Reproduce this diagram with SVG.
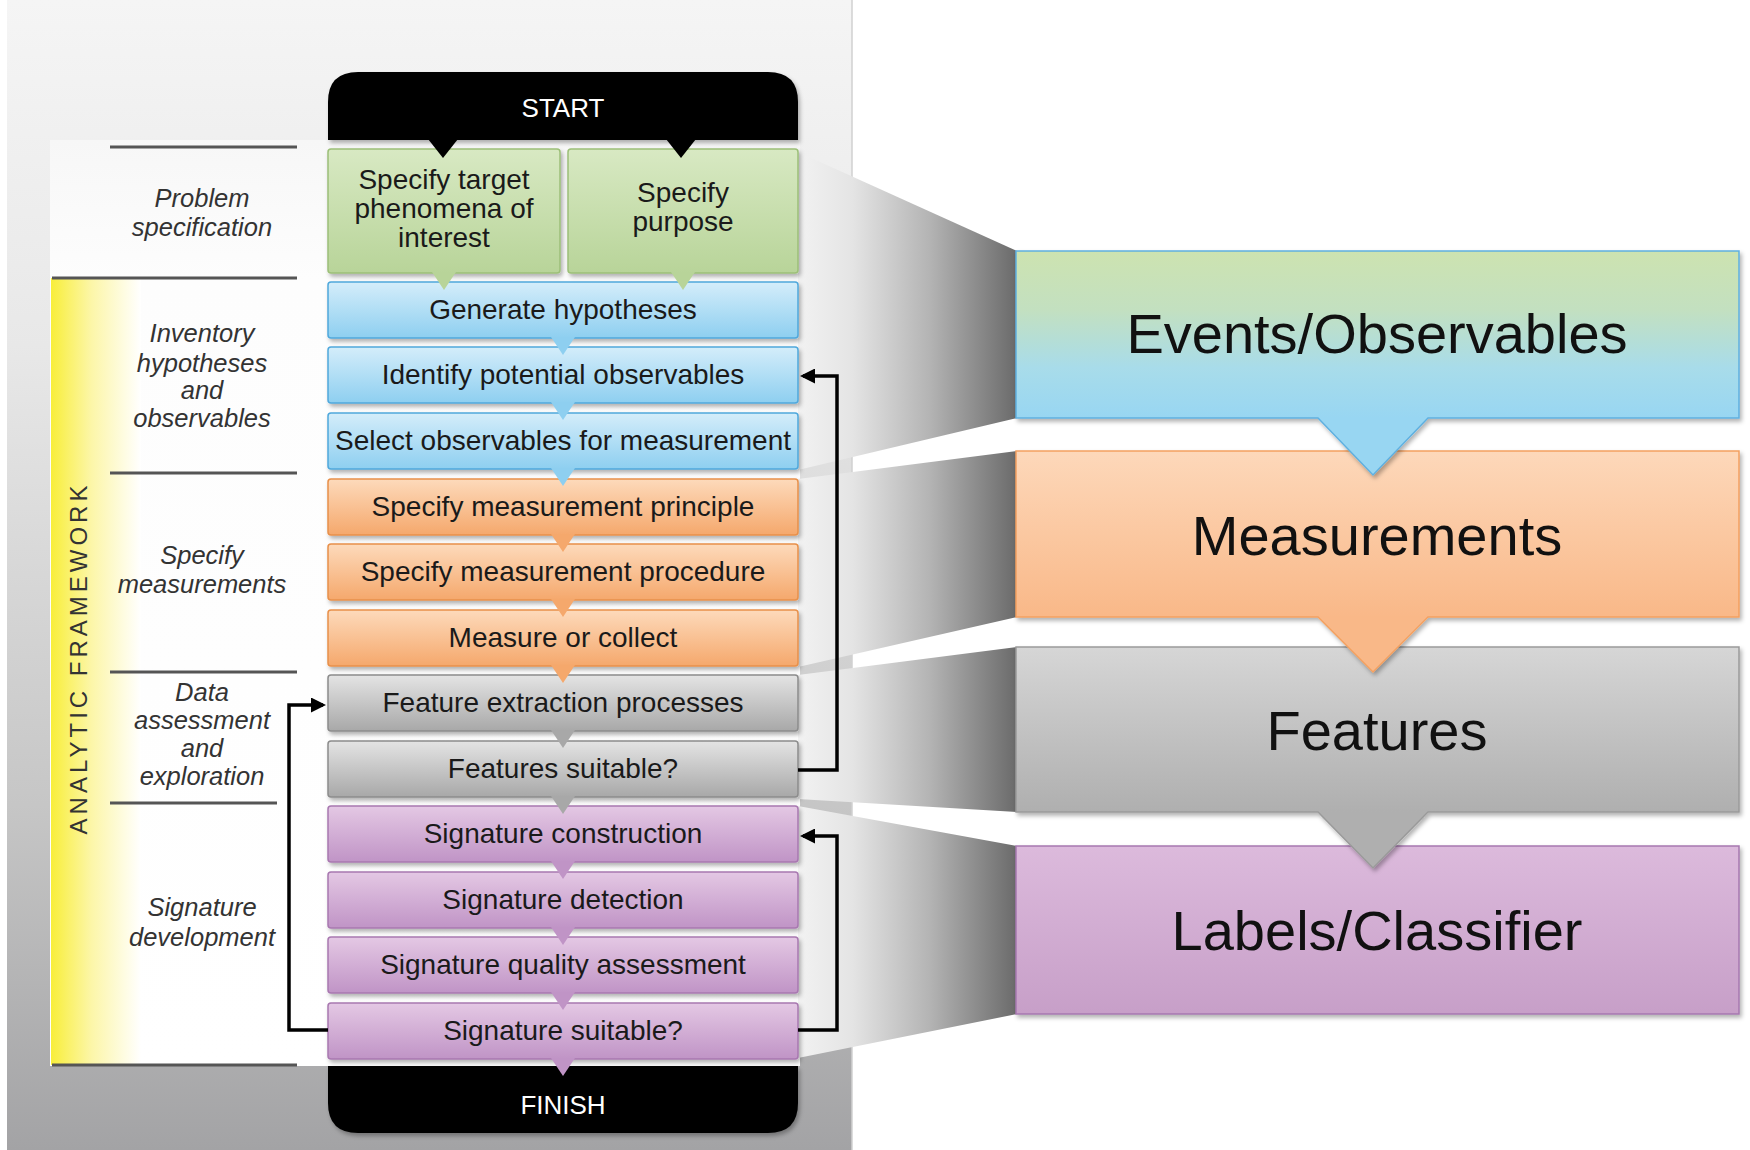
<svg xmlns="http://www.w3.org/2000/svg" width="1750" height="1150" viewBox="0 0 1750 1150">
<defs>
<style>
.box{stroke-width:1.5;filter:url(#sh)}
.bt{font-family:"Liberation Sans",Arial,sans-serif;font-size:28px;fill:#1a1a1a;text-anchor:middle}
.lab{font-family:"Liberation Sans",Arial,sans-serif;font-size:25.5px;font-style:italic;fill:#333;text-anchor:middle}
.se{font-family:"Liberation Sans",Arial,sans-serif;font-size:26px;fill:#fff;text-anchor:middle}
.big{font-family:"Liberation Sans",Arial,sans-serif;font-size:56px;fill:#111;text-anchor:middle}
.sep{stroke:#555;stroke-width:3}
.conn{fill:none;stroke:#000;stroke-width:3.5}
.g{fill:url(#gG);stroke:#9cbf78}
.b{fill:url(#gB);stroke:#4fa8dc}
.o{fill:url(#gO);stroke:#e8904a}
.y{fill:url(#gY);stroke:#8c8c8c}
.p{fill:url(#gP);stroke:#a878b0}
.proj{fill:url(#projG)}
</style>
<linearGradient id="panelG" x1="0" y1="0" x2="0" y2="1">
<stop offset="0" stop-color="#f5f5f5"/><stop offset="0.3" stop-color="#e8e8e8"/><stop offset="0.7" stop-color="#c6c6c6"/><stop offset="1" stop-color="#a3a3a5"/>
</linearGradient>
<linearGradient id="colG" x1="0" y1="0" x2="0" y2="1">
<stop offset="0" stop-color="#f7f7f7"/><stop offset="0.15" stop-color="#fdfdfd"/><stop offset="1" stop-color="#ffffff"/>
</linearGradient>
<linearGradient id="yelG" x1="0" y1="0" x2="1" y2="0">
<stop offset="0" stop-color="#f8ee3a"/><stop offset="0.45" stop-color="#fcf6a8"/><stop offset="1" stop-color="#ffffff"/>
</linearGradient>
<linearGradient id="gG" x1="0" y1="0" x2="0" y2="1"><stop offset="0" stop-color="#d8e9c3"/><stop offset="1" stop-color="#b8d499"/></linearGradient>
<linearGradient id="gB" x1="0" y1="0" x2="0" y2="1"><stop offset="0" stop-color="#d4edfa"/><stop offset="1" stop-color="#8ecff0"/></linearGradient>
<linearGradient id="gO" x1="0" y1="0" x2="0" y2="1"><stop offset="0" stop-color="#fddabb"/><stop offset="1" stop-color="#f5a86c"/></linearGradient>
<linearGradient id="gY" x1="0" y1="0" x2="0" y2="1"><stop offset="0" stop-color="#e4e4e4"/><stop offset="1" stop-color="#a8a8a8"/></linearGradient>
<linearGradient id="gP" x1="0" y1="0" x2="0" y2="1"><stop offset="0" stop-color="#e4c8e4"/><stop offset="1" stop-color="#c094c6"/></linearGradient>
<linearGradient id="projG" gradientUnits="userSpaceOnUse" x1="798" y1="0" x2="1017" y2="0">
<stop offset="0" stop-color="#f2f2f2"/><stop offset="0.25" stop-color="#e4e4e4"/><stop offset="0.6" stop-color="#b4b4b4"/><stop offset="1" stop-color="#6a6a6a"/>
</linearGradient>
<linearGradient id="evG" gradientUnits="userSpaceOnUse" x1="0" y1="251" x2="0" y2="418">
<stop offset="0" stop-color="#cde3b0"/><stop offset="0.35" stop-color="#c3e0c0"/><stop offset="0.7" stop-color="#a8dcea"/><stop offset="1" stop-color="#98d6f2"/>
</linearGradient>
<linearGradient id="meG" gradientUnits="userSpaceOnUse" x1="0" y1="451" x2="0" y2="617"><stop offset="0" stop-color="#fdd8ba"/><stop offset="1" stop-color="#f9b888"/></linearGradient>
<linearGradient id="feG" gradientUnits="userSpaceOnUse" x1="0" y1="647" x2="0" y2="812"><stop offset="0" stop-color="#d6d6d6"/><stop offset="1" stop-color="#afafaf"/></linearGradient>
<linearGradient id="laG" gradientUnits="userSpaceOnUse" x1="0" y1="846" x2="0" y2="1014"><stop offset="0" stop-color="#dcbadc"/><stop offset="1" stop-color="#c79fc8"/></linearGradient>
<filter id="sh" x="-5%" y="-20%" width="110%" height="150%">
<feDropShadow dx="2" dy="3" stdDeviation="2" flood-color="#000" flood-opacity="0.3"/>
</filter>
<marker id="ah" viewBox="0 0 10 10" refX="8" refY="5" markerWidth="18" markerHeight="15" markerUnits="userSpaceOnUse" orient="auto">
<path d="M0,0 L10,5 L0,10 z" fill="#000"/>
</marker>
</defs>

<!-- background panel -->
<rect x="0" y="0" width="1750" height="1150" fill="#fff"/>
<rect x="7" y="0" width="845" height="1150" fill="url(#panelG)"/>
<line x1="852" y1="0" x2="852" y2="1150" stroke="#d0d0d0" stroke-width="1.5"/>
<rect x="50" y="140" width="750" height="926" fill="url(#colG)"/>
<rect x="51" y="278" width="90" height="787" fill="url(#yelG)"/>

<!-- projections -->
<g id="projections">
<polygon class="proj" points="798,152 1017,251 1017,418 798,470"/>
<polygon class="proj" points="798,479 1017,451 1017,617 798,667"/>
<polygon class="proj" points="798,675 1017,647 1017,812 798,799"/>
<polygon class="proj" points="798,806 1017,846 1017,1014 798,1058"/>
</g>

<!-- left column separators and labels -->
<g id="sections">
<line class="sep" x1="110" y1="147" x2="297" y2="147"/>
<line class="sep" x1="52" y1="278" x2="297" y2="278"/>
<line class="sep" x1="110" y1="473" x2="297" y2="473"/>
<line class="sep" x1="110" y1="672" x2="297" y2="672"/>
<line class="sep" x1="110" y1="803" x2="277" y2="803"/>
<line class="sep" x1="52" y1="1065" x2="297" y2="1065"/>
<text class="lab" x="202" y="207">Problem</text>
<text class="lab" x="202" y="236">specification</text>
<text class="lab" x="202" y="342">Inventory</text>
<text class="lab" x="202" y="372">hypotheses</text>
<text class="lab" x="202" y="399">and</text>
<text class="lab" x="202" y="427">observables</text>
<text class="lab" x="202" y="564">Specify</text>
<text class="lab" x="202" y="593">measurements</text>
<text class="lab" x="202" y="701">Data</text>
<text class="lab" x="202" y="729">assessment</text>
<text class="lab" x="202" y="757">and</text>
<text class="lab" x="202" y="785">exploration</text>
<text class="lab" x="202" y="916">Signature</text>
<text class="lab" x="202" y="946">development</text>
<text transform="translate(87,658) rotate(-90)" font-family="'Liberation Sans',Arial,sans-serif" font-size="24" letter-spacing="4" fill="#333" text-anchor="middle">ANALYTIC FRAMEWORK</text>
</g>

<!-- flowchart nodes (drawn bottom to top so pointers overlap) -->
<g id="finish">
<path d="M328,1066 H798 V1103 Q798,1133 768,1133 H358 Q328,1133 328,1103 Z" fill="#000" filter="url(#sh)"/>
<text class="se" x="563" y="1114">FINISH</text>
</g>
<g id="sig-suitable">
<rect class="box p" x="328" y="1003" width="470" height="56" rx="3"/>
<polygon points="551,1058 575,1058 563,1076" fill="#c094c6"/>
<text class="bt" x="563" y="1040">Signature suitable?</text>
</g>
<g id="sig-quality">
<rect class="box p" x="328" y="937" width="470" height="56" rx="3"/>
<polygon points="551,992 575,992 563,1010" fill="#c094c6"/>
<text class="bt" x="563" y="974">Signature quality assessment</text>
</g>
<g id="sig-detection">
<rect class="box p" x="328" y="872" width="470" height="56" rx="3"/>
<polygon points="551,927 575,927 563,945" fill="#c094c6"/>
<text class="bt" x="563" y="909">Signature detection</text>
</g>
<g id="sig-construction">
<rect class="box p" x="328" y="806" width="470" height="56" rx="3"/>
<polygon points="551,861 575,861 563,879" fill="#c094c6"/>
<text class="bt" x="563" y="843">Signature construction</text>
</g>
<g id="feat-suitable">
<rect class="box y" x="328" y="741" width="470" height="56" rx="3"/>
<polygon points="551,796 575,796 563,814" fill="#a8a8a8"/>
<text class="bt" x="563" y="778">Features suitable?</text>
</g>
<g id="feat-extraction">
<rect class="box y" x="328" y="675" width="470" height="56" rx="3"/>
<polygon points="551,730 575,730 563,748" fill="#a8a8a8"/>
<text class="bt" x="563" y="712">Feature extraction processes</text>
</g>
<g id="measure-collect">
<rect class="box o" x="328" y="610" width="470" height="56" rx="3"/>
<polygon points="551,665 575,665 563,683" fill="#f5a86c"/>
<text class="bt" x="563" y="647">Measure or collect</text>
</g>
<g id="meas-procedure">
<rect class="box o" x="328" y="544" width="470" height="56" rx="3"/>
<polygon points="551,599 575,599 563,617" fill="#f5a86c"/>
<text class="bt" x="563" y="581">Specify measurement procedure</text>
</g>
<g id="meas-principle">
<rect class="box o" x="328" y="479" width="470" height="56" rx="3"/>
<polygon points="551,534 575,534 563,552" fill="#f5a86c"/>
<text class="bt" x="563" y="516">Specify measurement principle</text>
</g>
<g id="select-obs">
<rect class="box b" x="328" y="413" width="470" height="56" rx="3"/>
<polygon points="551,468 575,468 563,486" fill="#8ecff0"/>
<text class="bt" x="563" y="450">Select observables for measurement</text>
</g>
<g id="identify-obs">
<rect class="box b" x="328" y="347" width="470" height="56" rx="3"/>
<polygon points="551,402 575,402 563,420" fill="#8ecff0"/>
<text class="bt" x="563" y="384">Identify potential observables</text>
</g>
<g id="generate-hyp">
<rect class="box b" x="328" y="282" width="470" height="56" rx="3"/>
<polygon points="551,337 575,337 563,355" fill="#8ecff0"/>
<text class="bt" x="563" y="319">Generate hypotheses</text>
</g>
<g id="target-phenomena">
<rect class="box g" x="328" y="149" width="232" height="124" rx="3"/>
<polygon points="432,272 456,272 444,290" fill="#b8d499"/>
<text class="bt" x="444" y="189">Specify target</text>
<text class="bt" x="444" y="218">phenomena of</text>
<text class="bt" x="444" y="247">interest</text>
</g>
<g id="purpose">
<rect class="box g" x="568" y="149" width="230" height="124" rx="3"/>
<polygon points="671,272 695,272 683,290" fill="#b8d499"/>
<text class="bt" x="683" y="202">Specify</text>
<text class="bt" x="683" y="231">purpose</text>
</g>
<g id="start">
<path d="M328,140 V102 Q328,72 358,72 H768 Q798,72 798,102 V140 Z" fill="#000" filter="url(#sh)"/>
<polygon points="428,139 458,139 443,158" fill="#000"/>
<polygon points="666,139 696,139 681,158" fill="#000"/>
<text class="se" x="563" y="117">START</text>
</g>

<!-- right side summary boxes -->
<g id="labels-classifier">
<path class="box" d="M1016,846 H1739 V1014 H1016 Z" fill="url(#laG)" stroke="#a778b0"/>
<text class="big" x="1377" y="950">Labels/Classifier</text>
</g>
<g id="features">
<path class="box" d="M1016,647 H1739 V812 H1428 L1373,868 L1318,812 H1016 Z" fill="url(#feG)" stroke="#9a9a9a"/>
<text class="big" x="1377" y="750">Features</text>
</g>
<g id="measurements">
<path class="box" d="M1016,451 H1739 V617 H1428 L1373,672 L1318,617 H1016 Z" fill="url(#meG)" stroke="#f3a060"/>
<text class="big" x="1377" y="555">Measurements</text>
</g>
<g id="events">
<path class="box" d="M1016,251 H1739 V418 H1428 L1373,475 L1318,418 H1016 Z" fill="url(#evG)" stroke="#5fb0e0"/>
<text class="big" x="1377" y="353">Events/Observables</text>
</g>

<!-- connectors -->
<g id="connectors">
<path class="conn" d="M798,770 H837 V376 H803" marker-end="url(#ah)"/>
<path class="conn" d="M798,1030 H837 V836 H803" marker-end="url(#ah)"/>
<path class="conn" d="M328,1030 H289 V705 H323" marker-end="url(#ah)"/>
</g>
</svg>
